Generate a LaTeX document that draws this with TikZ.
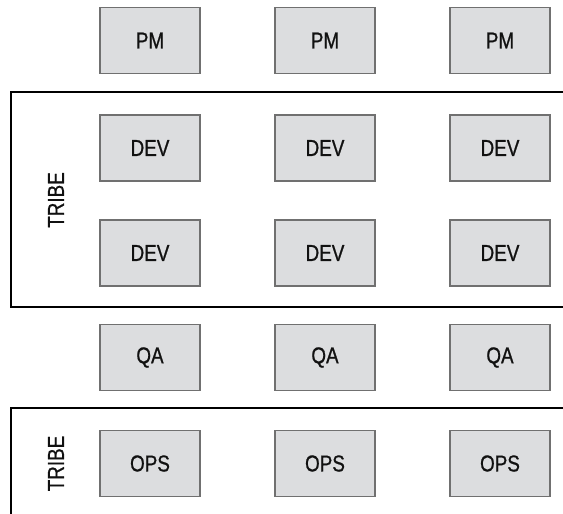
\documentclass[tikz,border=0pt]{standalone}
\usepackage{fontspec}
\setmainfont{Liberation Sans}[FakeStretch=0.82, FakeBold=0.8]
\usetikzlibrary{positioning}

\definecolor{boxfill}{HTML}{DCDDDF}
\definecolor{boxline}{HTML}{707070}
\definecolor{inktext}{HTML}{111111}

\tikzset{
    role/.style={draw=boxline, fill=boxfill, line width=1.6pt,
        minimum width=100pt, minimum height=66pt, inner sep=0pt,
        text=inktext, font=\fontsize{23}{23}\selectfont},
    tribeline/.style={line width=1.8pt},
    tribelabel/.style={rotate=90, text=inktext, font=\fontsize{23}{23}\selectfont},
}

\begin{document}
\begin{tikzpicture}[x=1pt, y=-1pt]
    \useasboundingbox (0,0) rectangle (563,514);

    % Tribe frames
    \draw[tribeline] (563,92) -| (11,307) -- (563,307);
    \draw[tribeline] (563,408) -| (11,514);

    % Tribe labels
    \node[tribelabel] (tribeA) at (56,200) {TRIBE};
    \node[tribelabel] (tribeB) at (56,463.5) {TRIBE};

    % Roles, one column per team
    \foreach \px/\col in {150/a, 325/b, 500/c} {
        \node[role] (pm\col)   at (\px,40.5)  {PM};
        \node[role] (devA\col) at (\px,148)   {DEV};
        \node[role] (devB\col) at (\px,253)   {DEV};
        \node[role] (qa\col)   at (\px,357.5) {QA};
        \node[role] (ops\col)  at (\px,463.5) {OPS};
    }
\end{tikzpicture}
\end{document}
